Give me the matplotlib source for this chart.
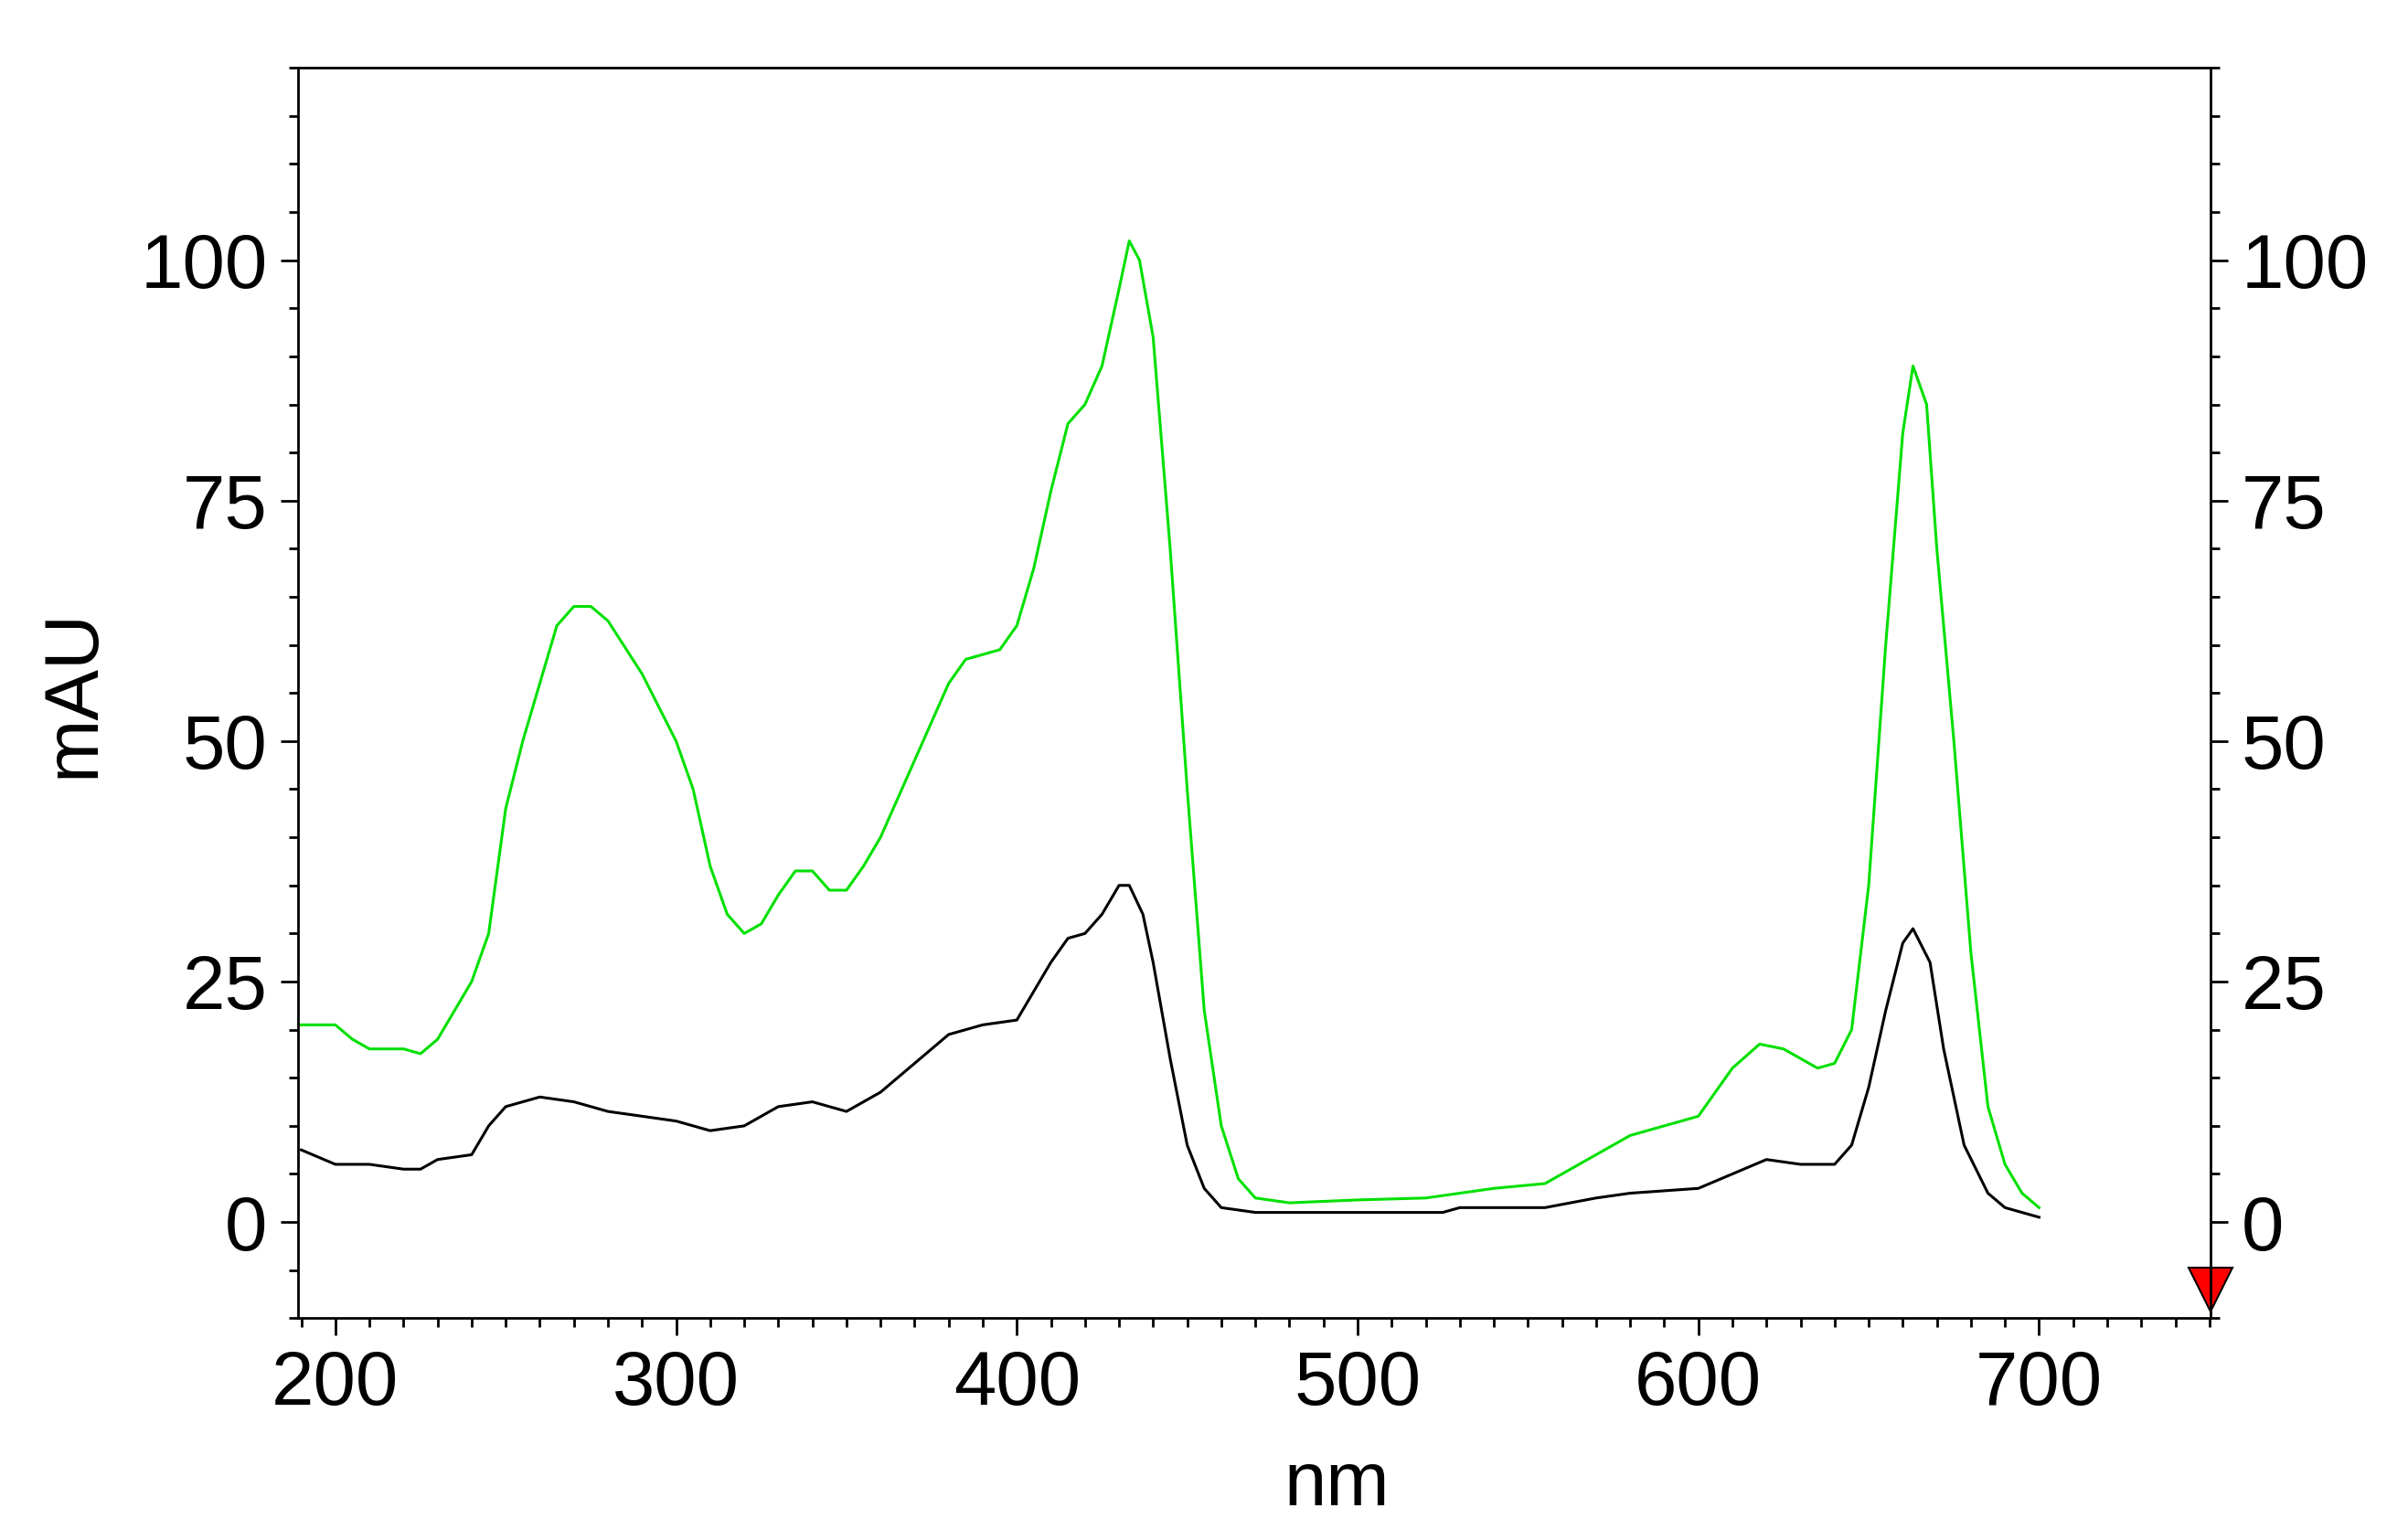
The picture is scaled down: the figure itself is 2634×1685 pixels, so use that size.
import matplotlib
matplotlib.use("Agg")
import matplotlib.pyplot as plt
from matplotlib.ticker import MultipleLocator

green_x = [190,200,205,210,220,225,230,240,245,250,255,260,265,270,275,280,290,300,305,310,315,320,325,330,335,340,345,350,355,360,370,380,385,390,395,400,405,410,415,420,425,430,433,436,440,445,450,455,460,465,470,480,500,520,540,555,570,580,590,600,610,618,625,635,640,645,650,655,660,663,667,670,675,680,685,690,695,700]
green_y = [20.5,20.5,19,18,18,17.5,19,25,30,43,50,56,62,64,64,62.5,57,50,45,37,32,30,31,34,36.5,36.5,34.5,34.5,37,40,48,56,58.5,59,59.5,62,68,76,83,85,89,97,102,100,92,70,45,22,10,4.5,2.5,2,2.3,2.5,3.5,4,7,9,10,11,16,18.5,18,16,16.5,20,35,60,82,89,85,70,50,28,12,6,3,1.5]
black_x = [190,200,210,220,225,230,240,245,250,260,270,280,300,310,320,330,340,350,360,370,380,390,400,405,410,415,420,425,430,433,437,440,445,450,455,460,470,500,525,530,555,570,580,600,610,620,630,640,645,650,655,660,663,668,672,678,685,690,700]
black_y = [7.5,6,6,5.5,5.5,6.5,7,10,12,13,12.5,11.5,10.5,9.5,10,12,12.5,11.5,13.5,16.5,19.5,20.5,21,24,27,29.5,30,32,35,35,32,27,17,8,3.5,1.5,1,1,1,1.5,1.5,2.5,3,3.5,5,6.5,6,6,8,14,22,29,30.5,27,18,8,3,1.5,0.5]

plt.rcParams['font.family'] = ['Liberation Sans', 'DejaVu Sans']
fig = plt.figure(figsize=(26.34, 16.85), dpi=100)
ax = fig.add_axes([0.1237, 0.144, 0.7944, 0.812])
ax.plot(green_x, green_y, color='#00e000', lw=2.2)
ax.plot(black_x, black_y, color='black', lw=2.2)
ax.set_xlim(189, 750.4)
ax.set_ylim(-10, 120)
ax.xaxis.set_major_locator(MultipleLocator(100))
ax.xaxis.set_minor_locator(MultipleLocator(10))
ax.yaxis.set_major_locator(MultipleLocator(25))
ax.yaxis.set_minor_locator(MultipleLocator(5))
ax.tick_params(axis='both', which='major', direction='out', length=14, width=2, labelsize=60, pad=10)
ax.tick_params(axis='both', which='minor', direction='out', length=7, width=2)
ax.tick_params(axis='y', which='both', right=True, labelright=True)
ax.set_xlabel('nm', fontsize=60, labelpad=14)
ax.xaxis.set_label_coords(0.543, -0.105)
ax.set_ylabel('mAU', fontsize=60, labelpad=24)
for s in ax.spines.values():
    s.set_linewidth(2)
ax.plot([750.4], [-7], marker='v', color='red', markersize=34, markeredgecolor='black', markeredgewidth=1.5, clip_on=False)
fig.savefig('out.png', dpi=100)
